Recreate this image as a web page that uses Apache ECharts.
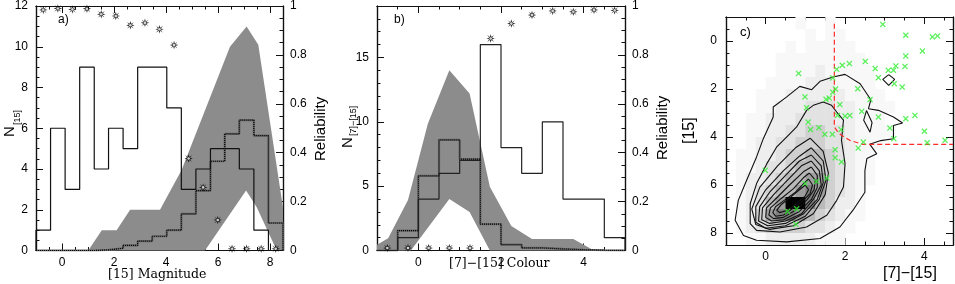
<!DOCTYPE html>
<html><head><meta charset="utf-8">
<script src="https://cdn.jsdelivr.net/npm/echarts@6/dist/echarts.min.js"></script>
<style>html,body{margin:0;padding:0;background:#fff}#c{width:955px;height:284px}</style>
</head><body><div id="c"></div>
<script>
// ---------- Panel a: [15] magnitude ----------
const aEdges = [-1, -0.44, 0.12, 0.68, 1.24, 1.79, 2.35, 2.91, 3.47, 4.03, 4.59, 5.15, 5.71, 6.26, 6.82, 7.38, 7.94, 8.5];
const aSolid = [1, 6, 3, 9, 4, 6, 5, 9, 9, 7, 3, 4, 5, 5, 4, 1, 0];
const aDotted = [0, 0, 0, 0, 0.03, 0.11, 0.25, 0.46, 0.7, 1.0, 1.8, 2.94, 4.38, 5.72, 6.4, 5.64, 1.35];
const aRelX = [-0.72, -0.16, 0.40, 0.96, 1.51, 2.07, 2.63, 3.19, 3.75, 4.31, 4.87, 5.43, 5.99, 6.54, 7.10, 7.66, 8.22];
const aRel = [0.984, 0.99, 0.986, 0.989, 0.966, 0.959, 0.921, 0.931, 0.905, 0.84, 0.376, 0.258, 0.125, 0.007, 0.007, 0.007, 0.007];
const aBandUpper = [[1.01,0],[1.53,1],[2.1,1],[2.62,2],[3.77,2],[4.6,3.95],[6.46,10],[7.1,11],[7.55,10.1],[8.5,2.1],[8.5,0]];
const aBandLower = [[8.26,0],[7.49,2.12],[7.08,2.95],[5.5,0]];
const aXTicks = [0, 2, 4, 6, 8];
const aYTicks = [0, 2, 4, 6, 8, 10, 12];
const relTicks = [0, 0.2, 0.4, 0.6, 0.8, 1];

// ---------- Panel b: [7]-[15] colour ----------
const bEdges = [-1, -0.5, 0, 0.5, 1, 1.5, 2, 2.5, 3, 3.5, 4, 4.5, 5];
const bSolid = [0, 1, 4, 6, 7, 16, 8, 6, 10, 4, 4, 1];
const bDotted = [0, 1.55, 5.8, 8.6, 7.1, 2.05, 0.45, 0.2, 0.12, 0.06, 0.02, 0];
const bRelX = [-0.75, -0.25, 0.25, 0.75, 1.25, 1.75, 2.25, 2.75, 3.25, 3.75, 4.25, 4.75];
const bRel = [0.01, 0.01, 0.01, 0.01, 0.01, 0.867, 0.928, 0.963, 0.98, 0.976, 0.984, 0.982];
const bBandUpper = [[-1,0.44],[-0.73,0.96],[-0.25,3.92],[0.23,9.85],[0.75,14.0],[1.24,12.2],[1.73,4.95],[2.25,1.9],[2.75,0.9],[3.75,0.9],[4.25,0]];
const bBandLower = [[1.73,0],[1.24,3.0],[0.75,4.0],[-0.18,0],[-1,0]];
const bXTicks = [0, 2, 4];
const bYTicks = [0, 5, 10, 15];

// ---------- Panel c: colour-magnitude density ----------
const cXTicks = [0, 2, 4];
const cYTicks = [0, 2, 4, 6, 8];
const cCellX = [-0.875,-0.625,-0.375,-0.125,0.125,0.375,0.625,0.875,1.125,1.375,1.625,1.875,2.125,2.375,2.625,2.875,3.125,3.375,3.625,3.875,4.125,4.375,4.625];
const cCellY = [-0.75,-0.25,0.25,0.75,1.25,1.75,2.25,2.75,3.25,3.75,4.25,4.75,5.25,5.75,6.25,6.75,7.25,7.75,8.25];
const cDensity = [
 [0,0,0,0,0,0,0,1,0,0,1,0,0,0,0,0,0,0,0,0,0,0,0],
 [0,0,0,0,0,0,0,0,1,0,1,1,0,0,0,0,0,0,0,0,0,0,0],
 [0,0,0,0,0,0,1,0,1,1,1,1,1,0,0,0,0,0,0,0,0,0,0],
 [0,0,0,0,0,1,1,1,1,1,1,1,1,1,0,0,0,0,0,0,0,0,0],
 [0,0,0,0,0,1,1,1,1,2,1,1,1,1,1,0,0,0,0,0,0,0,0],
 [0,0,0,0,1,1,1,1,2,2,2,1,1,1,1,0,0,0,0,0,0,0,0],
 [0,0,0,1,1,1,2,2,2,2,2,2,1,1,1,1,0,0,0,0,0,0,0],
 [0,0,0,1,1,2,2,2,3,3,3,2,2,1,1,1,1,0,0,0,0,0,0],
 [0,0,1,1,2,2,2,3,3,3,3,2,2,1,1,1,0,0,0,0,0,0,0],
 [0,0,1,1,2,2,3,3,4,4,3,3,2,1,1,1,1,0,0,0,0,0,0],
 [0,0,1,2,2,3,3,4,4,4,3,3,2,1,1,1,0,0,0,0,0,0,0],
 [0,1,1,2,2,3,4,4,5,5,4,3,2,1,1,0,0,0,0,0,0,0,0],
 [0,1,1,2,3,3,4,5,5,5,4,3,2,1,1,0,0,0,0,0,0,0,0],
 [0,1,2,2,3,4,5,5,6,6,4,3,2,1,1,0,0,0,0,0,0,0,0],
 [0,1,2,3,4,5,5,6,7,6,4,3,2,1,0,0,0,0,0,0,0,0,0],
 [0,1,2,3,5,6,9,9,7,5,4,2,2,1,0,0,0,0,0,0,0,0,0],
 [0,1,2,4,6,7,7,6,5,4,3,2,1,1,0,0,0,0,0,0,0,0,0],
 [0,1,2,3,4,4,4,4,3,3,2,1,1,0,0,0,0,0,0,0,0,0,0],
 [0,0,1,1,2,2,2,2,2,1,1,1,0,0,0,0,0,0,0,0,0,0,0]
];
const cContours = [
 [[0.19,3.17],[0.19,2.75],[0.53,2.33],[0.86,1.89],[1.16,2.03],[1.37,1.68],[1.7,1.5],[2.0,1.39],[2.38,1.78],[2.65,2.45],[2.59,2.82],[2.84,2.89],[3.22,3.17],[3.45,3.42],[3.22,3.52],[3.22,4.07],[2.9,4.15],[2.62,4.3],[2.8,4.7],[2.55,4.9],[2.5,5.4],[2.5,6.3],[2.2,7.05],[1.87,7.75],[1.37,8.23],[0.53,8.37],[-0.23,8.3],[-0.56,8.1],[-0.77,7.47],[-0.69,6.64],[-0.48,5.8],[-0.23,4.83],[-0.06,4.07],[0.19,3.17]],
 [[1.03,2.89],[1.2,2.68],[1.45,2.54],[1.66,2.68],[1.79,2.96],[1.96,3.3],[1.91,4.14],[2.0,5.11],[1.96,6.08],[1.79,6.64],[1.54,7.26],[1.03,7.75],[0.36,7.96],[-0.23,7.89],[-0.39,7.61],[-0.39,6.78],[-0.23,5.94],[0.03,5.11],[0.28,4.41],[0.57,3.93],[0.78,3.58],[1.03,2.89]],
 [[1.12,4.05],[1.45,4.6],[1.58,5.5],[1.5,6.4],[1.2,7.2],[0.7,7.7],[0.1,7.85],[-0.25,7.65],[-0.35,7.0],[-0.15,6.1],[0.3,5.2],[0.75,4.45],[1.12,4.05]],
 [[1.15,4.45],[1.45,5.0],[1.52,5.8],[1.35,6.6],[1.0,7.3],[0.5,7.7],[0.0,7.8],[-0.25,7.55],[-0.25,6.9],[0.0,6.2],[0.45,5.4],[0.85,4.8],[1.15,4.45]],
 [[1.15,4.75],[1.4,5.2],[1.45,5.9],[1.3,6.6],[0.95,7.2],[0.5,7.6],[0.05,7.7],[-0.18,7.5],[-0.15,6.9],[0.1,6.3],[0.5,5.6],[0.85,5.0],[1.15,4.75]],
 [[1.15,5.0],[1.35,5.4],[1.4,6.0],[1.2,6.6],[0.9,7.2],[0.5,7.5],[0.1,7.6],[-0.1,7.45],[-0.08,6.95],[0.2,6.4],[0.55,5.8],[0.9,5.2],[1.15,5.0]],
 [[1.15,5.25],[1.3,5.6],[1.3,6.1],[1.15,6.6],[0.85,7.1],[0.45,7.45],[0.15,7.5],[0.0,7.35],[0.02,6.95],[0.3,6.5],[0.6,6.0],[0.95,5.45],[1.15,5.25]],
 [[1.1,5.5],[1.25,5.8],[1.22,6.2],[1.05,6.6],[0.8,7.0],[0.45,7.35],[0.2,7.4],[0.08,7.25],[0.12,6.95],[0.4,6.55],[0.7,6.15],[0.95,5.7],[1.1,5.5]],
 [[1.08,5.75],[1.18,6.0],[1.12,6.35],[0.95,6.65],[0.7,6.95],[0.45,7.25],[0.25,7.3],[0.18,7.15],[0.25,6.9],[0.5,6.6],[0.75,6.3],[0.95,5.95],[1.08,5.75]],
 [[1.0,6.0],[1.08,6.2],[1.0,6.45],[0.8,6.75],[0.55,7.05],[0.35,7.15],[0.28,7.05],[0.4,6.8],[0.6,6.55],[0.85,6.2],[1.0,6.0]],
 [[3.1,1.4],[3.25,1.6],[3.1,1.85],[2.95,1.6],[3.1,1.4]],
 [[2.54,2.9],[2.68,3.4],[2.63,3.8],[2.47,3.3],[2.54,2.9]]
];
const cSelX = [1.73, 1.73, 1.8, 1.9, 2.12, 2.46, 4.72];
const cSelY = [-0.72, 3.58, 3.75, 3.92, 4.14, 4.31, 4.31];
const cStarsX = [2.95,3.53,4.2,4.33,3.95,3.53,2.51,2.11,1.93,1.79,2.76,3.09,3.22,3.28,3.51,0.83,2.84,3.24,3.44,1.69,1.76,1.69,2.32,2.63,0.99,1.52,1.6,1.03,1.87,2.42,1.81,2.0,2.12,2.84,3.53,3.76,1.07,1.13,1.34,1.9,3.13,1.49,1.68,4.0,3.23,4.07,4.52,2.46,2.33,1.75,1.75,1.91,-0.01,1.54,1.28,0.99,0.55,0.78,0.76];
const cStarsY = [-0.69,-0.24,-0.17,-0.21,0.42,0.63,0.85,0.94,1.01,1.18,1.15,1.22,1.22,1.04,1.06,1.35,1.53,1.78,1.92,1.54,2.0,2.14,1.99,2.44,2.33,2.43,2.38,2.78,2.65,2.93,3.1,3.13,3.1,3.17,3.24,3.1,3.38,3.69,3.61,3.69,3.63,3.89,3.89,3.76,4.07,4.24,4.14,4.21,4.46,4.53,4.86,5.04,5.39,5.71,5.85,5.94,7.1,6.99,7.64];

// ---------- helpers ----------
function steps(edges, vals) {
  const pts = [[edges[0], 0]];
  vals.forEach((v, i) => { pts.push([edges[i], v]); pts.push([edges[i + 1], v]); });
  pts.push([edges[edges.length - 1], 0]);
  return pts;
}
function range(a, b, s) { const r = []; for (let v = a; v <= b + 1e-9; v += s) r.push(+v.toFixed(4)); return r; }
const FONT = 'Liberation Sans';
function axis(grid, pos, min, max, vals, len, labels, margin, inverse) {
  return {
    type: 'value', gridIndex: grid, position: pos, min: min, max: max, inverse: !!inverse,
    axisLine: { show: true, onZero: false, lineStyle: { color: '#111', width: 1.2 } },
    axisTick: { show: true, inside: true, length: len, customValues: vals, lineStyle: { color: '#111', width: 1 } },
    axisLabel: labels ? { show: true, customValues: vals, margin: margin, color: '#000', fontSize: 12, fontFamily: FONT } : { show: false },
    splitLine: { show: false }, minorTick: { show: false }
  };
}
function xAxes(g, min, max, major, minorStep, labels) {
  const minor = range(min, max, minorStep);
  return [axis(g, 'bottom', min, max, major, 7, labels, 6), axis(g, 'bottom', min, max, minor, 3.5, false),
          axis(g, 'top', min, max, major, 7, false), axis(g, 'top', min, max, minor, 3.5, false)];
}
function starPts(xs, ys) { return xs.map((x, i) => [x, ys[i]]); }

const bandSeries = (g, upper, lower) => ({
  type: 'custom', xAxisIndex: 4 * g, yAxisIndex: 4 * g, data: [[upper[0][0], upper[0][1]]], z: 1,
  renderItem: (p, api) => ({
    type: 'polygon',
    shape: { points: upper.concat(lower).map(pt => api.coord(pt)) },
    style: { fill: '#8c8c8c' }
  })
});
const histSeries = (g, pts, style, z) => ({
  type: 'line', xAxisIndex: 4 * g, yAxisIndex: 4 * g, data: pts, showSymbol: false, symbol: 'none',
  lineStyle: style, z: z, animation: false
});
const STAR = 'path://M5,0L6,3.3L9,1L6.7,4L10,5L6.7,6L9,9L6,6.7L5,10L4,6.7L1,9L3.3,6L0,5L3.3,4L1,1L4,3.3Z';
const relSeries = (g, pts) => [
  { type: 'scatter', xAxisIndex: 4 * g, yAxisIndex: 4 * g + 2, data: pts, symbol: STAR, symbolSize: 8.5,
    itemStyle: { color: '#000' }, z: 10 },
  { type: 'scatter', xAxisIndex: 4 * g, yAxisIndex: 4 * g + 2, data: pts, symbol: 'circle', symbolSize: 2.6,
    itemStyle: { color: '#fff' }, z: 11 }
];

const cells = [];
cCellY.forEach((y, r) => cCellX.forEach((x, c) => { if (cDensity[r][c] > 0) cells.push([x, y, cDensity[r][c]]); }));
const GREYS = ['#ffffff', '#f8f8f8', '#eeeeee', '#e2e2e2', '#d0d0d0', '#b9b9b9', '#9d9d9d', '#7f7f7f', '#5a5a5a', '#000000'];

const option = {
  animation: false,
  backgroundColor: '#fff',
  grid: [
    { left: 36, top: 5, width: 247, height: 245.5 },
    { left: 377, top: 5, width: 248, height: 245.5 },
    { left: 726, top: 17, width: 227, height: 228 }
  ],
  xAxis: [].concat(
    xAxes(0, -1, 8.5, aXTicks, 0.5, true),
    xAxes(1, -1, 5, bXTicks, 0.5, true),
    xAxes(2, -1, 4.72, cXTicks, 0.5, true)
  ),
  yAxis: [
    axis(0, 'left', 0, 12, aYTicks, 7, true, 8), axis(0, 'left', 0, 12, range(0, 12, 0.5), 3.5, false),
    axis(0, 'right', 0, 1, relTicks, 7, true, 7), axis(0, 'right', 0, 1, range(0, 1, 0.05), 3.5, false),
    axis(1, 'left', 0, 19, bYTicks, 7, true, 8), axis(1, 'left', 0, 19, range(0, 19, 1), 3.5, false),
    axis(1, 'right', 0, 1, relTicks, 7, true, 7), axis(1, 'right', 0, 1, range(0, 1, 0.05), 3.5, false),
    axis(2, 'left', -1, 8.5, cYTicks, 7, true, 9, true), axis(2, 'left', -1, 8.5, range(-1, 8.5, 0.5), 3.5, false, 0, true),
    axis(2, 'right', -1, 8.5, cYTicks, 7, false, 0, true), axis(2, 'right', -1, 8.5, range(-1, 8.5, 0.5), 3.5, false, 0, true)
  ],
  series: [].concat(
    [bandSeries(0, aBandUpper, aBandLower),
     histSeries(0, steps(aEdges, aDotted), { color: '#666', width: 2.2 }, 3),
     histSeries(0, steps(aEdges, aDotted), { color: '#000', width: 1.2, type: [1, 1] }, 4),
     histSeries(0, steps(aEdges, aSolid), { color: '#111', width: 1.2 }, 5)],
    relSeries(0, starPts(aRelX, aRel)),
    [bandSeries(1, bBandUpper, bBandLower),
     histSeries(1, steps(bEdges, bDotted), { color: '#666', width: 2.2 }, 3),
     histSeries(1, steps(bEdges, bDotted), { color: '#000', width: 1.2, type: [1, 1] }, 4),
     histSeries(1, steps(bEdges, bSolid), { color: '#222', width: 1.2 }, 5)],
    relSeries(1, starPts(bRelX, bRel)),
    [{ type: 'custom', xAxisIndex: 8, yAxisIndex: 8, data: cells, z: 1, clip: true,
       renderItem: (p, api) => {
         const x = api.value(0), y = api.value(1), v = api.value(2);
         const p0 = api.coord([x - 0.125, y - 0.25]), p1 = api.coord([x + 0.125, y + 0.25]);
         return { type: 'rect', shape: { x: Math.min(p0[0], p1[0]), y: Math.min(p0[1], p1[1]), width: Math.abs(p1[0] - p0[0]) + 0.5, height: Math.abs(p1[1] - p0[1]) + 0.5 },
                  style: { fill: GREYS[v] } };
       } }],
    cContours.map(ct => ({ type: 'line', xAxisIndex: 8, yAxisIndex: 8, data: ct, showSymbol: false, symbol: 'none',
       smooth: false, lineStyle: { color: '#111', width: 1.1 }, z: 4 })),
    [{ type: 'line', xAxisIndex: 8, yAxisIndex: 8, data: cSelX.map((x, i) => [x, cSelY[i]]), showSymbol: false, symbol: 'none',
       smooth: false, lineStyle: { color: '#ff2a2a', width: 1.2, type: [5, 3] }, z: 5 },
     { type: 'scatter', xAxisIndex: 8, yAxisIndex: 8, data: starPts(cStarsX, cStarsY),
       symbol: 'path://M0,1.5L1.5,0L5,3.5L8.5,0L10,1.5L6.5,5L10,8.5L8.5,10L5,6.5L1.5,10L0,8.5L3.5,5Z', symbolSize: 6,
       itemStyle: { color: '#33ee33' }, z: 6 }]
  ),
  graphic: [
    { type: 'text', x: 58, y: 14, style: { text: 'a)', font: '12px ' + FONT, fill: '#000' } },
    { type: 'text', x: 394, y: 14, style: { text: 'b)', font: '12px ' + FONT, fill: '#000' } },
    { type: 'text', x: 740, y: 26, style: { text: 'c)', font: '13px ' + FONT, fill: '#000' } },
    { type: 'text', x: 108, y: 268, style: { text: '[15] Magnitude', font: '12.5px "DejaVu Serif"', fill: '#000' } },
    { type: 'text', x: 449, y: 257, style: { text: '[7]\u2212[15] Colour', font: '12.5px "DejaVu Serif"', fill: '#000' } },
    { type: 'text', x: 883, y: 266, style: { text: '[7]\u2212[15]', font: '16px ' + FONT, fill: '#000' } },
    { type: 'text', x: 2, y: 137, rotation: Math.PI / 2, style: { text: 'N', font: '15px ' + FONT, fill: '#000' } },
    { type: 'text', x: 13, y: 125, rotation: Math.PI / 2, style: { text: '[15]', font: '9px ' + FONT, fill: '#000' } },
    { type: 'text', x: 313, y: 161, rotation: Math.PI / 2, style: { text: 'Reliability', font: '15px ' + FONT, fill: '#000' } },
    { type: 'text', x: 340, y: 148, rotation: Math.PI / 2, style: { text: 'N', font: '15px ' + FONT, fill: '#000' } },
    { type: 'text', x: 349.5, y: 136, rotation: Math.PI / 2, style: { text: '[7]\u2212[15]', font: '9px ' + FONT, fill: '#000' } },
    { type: 'text', x: 655, y: 160, rotation: Math.PI / 2, style: { text: 'Reliability', font: '15px ' + FONT, fill: '#000' } },
    { type: 'text', x: 682, y: 144, rotation: Math.PI / 2, style: { text: '[15]', font: '16px ' + FONT, fill: '#000' } }
  ]
};
const chart = echarts.init(document.getElementById('c'), null, { renderer: 'canvas' });
chart.setOption(option);
</script></body></html>
